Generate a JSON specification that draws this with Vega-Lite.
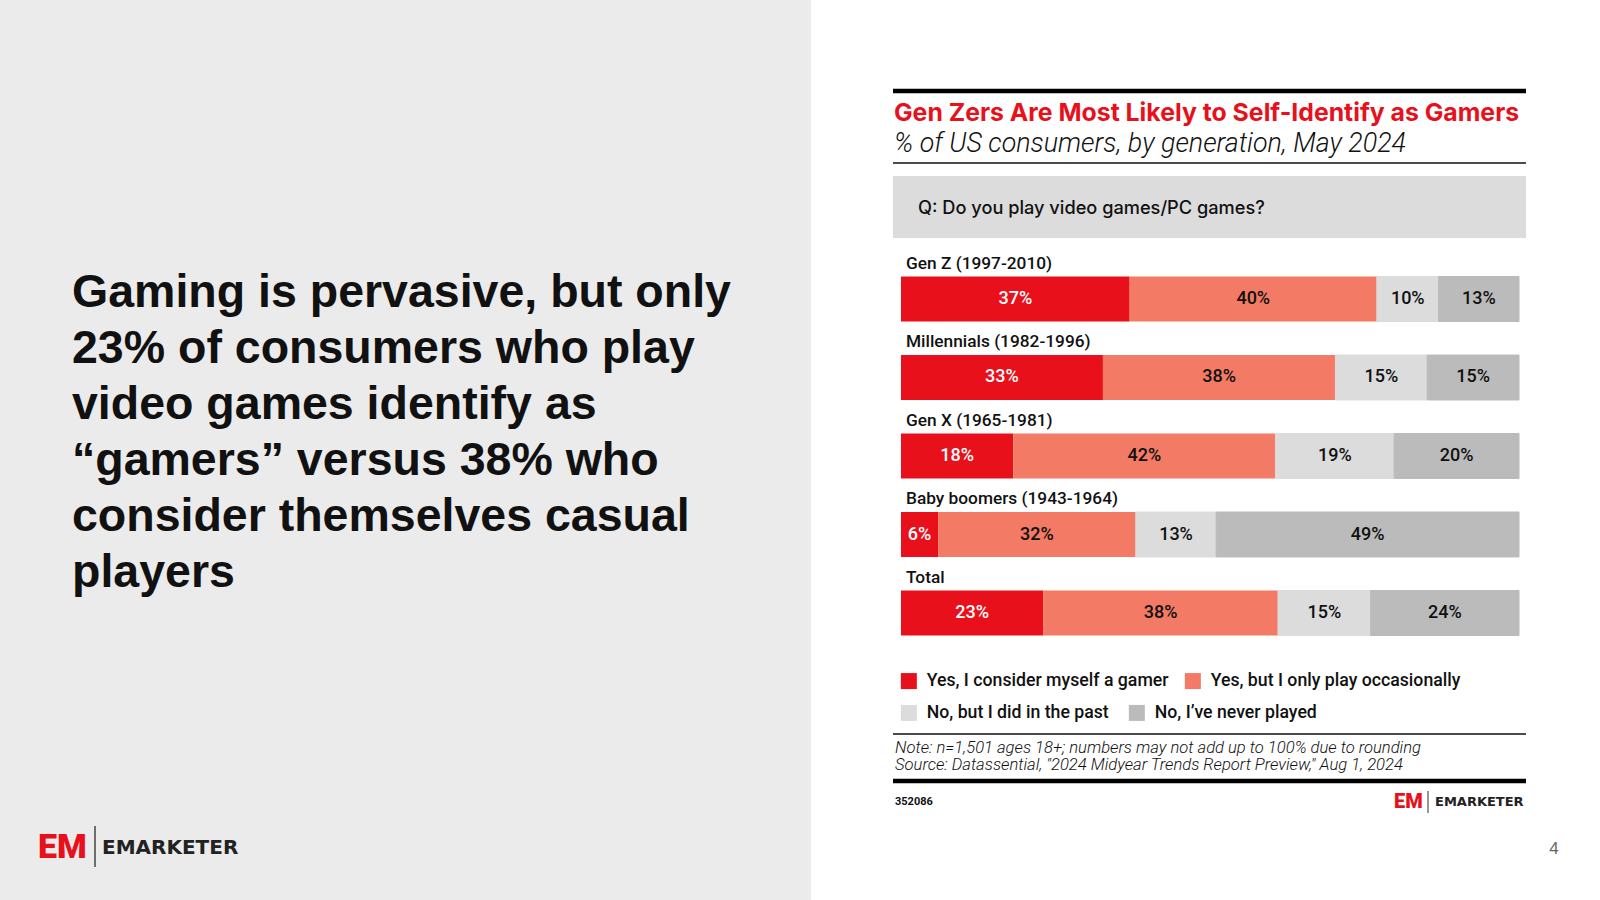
{
  "$schema": "https://vega.github.io/schema/vega-lite/v6.json",
  "width": 1600,
  "height": 900,
  "autosize": {"type": "fit", "contains": "padding"},
  "padding": 0,
  "background": "white",
  "config": {
    "view": {"stroke": null},
    "legend": {
      "orient": "none",
      "direction": "horizontal",
      "symbolType": "square",
      "symbolOpacity": 1,
      "labelOffset": 9,
      "labelFont": "Roboto",
      "labelFontSize": 17.7,
      "labelFontWeight": 500,
      "labelColor": "#111111",
      "labelLimit": 500,
      "padding": 0,
      "title": null
    }
  },
  "datasets": {
    "survey": [
      {"generation": "Gen Z (1997-2010)", "response": "Yes, I consider myself a gamer", "share": 0.37, "rank": 1},
      {"generation": "Gen Z (1997-2010)", "response": "Yes, but I only play occasionally", "share": 0.40, "rank": 2},
      {"generation": "Gen Z (1997-2010)", "response": "No, but I did in the past", "share": 0.10, "rank": 3},
      {"generation": "Gen Z (1997-2010)", "response": "No, I’ve never played", "share": 0.13, "rank": 4},
      {"generation": "Millennials (1982-1996)", "response": "Yes, I consider myself a gamer", "share": 0.33, "rank": 1},
      {"generation": "Millennials (1982-1996)", "response": "Yes, but I only play occasionally", "share": 0.38, "rank": 2},
      {"generation": "Millennials (1982-1996)", "response": "No, but I did in the past", "share": 0.15, "rank": 3},
      {"generation": "Millennials (1982-1996)", "response": "No, I’ve never played", "share": 0.15, "rank": 4},
      {"generation": "Gen X (1965-1981)", "response": "Yes, I consider myself a gamer", "share": 0.18, "rank": 1},
      {"generation": "Gen X (1965-1981)", "response": "Yes, but I only play occasionally", "share": 0.42, "rank": 2},
      {"generation": "Gen X (1965-1981)", "response": "No, but I did in the past", "share": 0.19, "rank": 3},
      {"generation": "Gen X (1965-1981)", "response": "No, I’ve never played", "share": 0.20, "rank": 4},
      {"generation": "Baby boomers (1943-1964)", "response": "Yes, I consider myself a gamer", "share": 0.06, "rank": 1},
      {"generation": "Baby boomers (1943-1964)", "response": "Yes, but I only play occasionally", "share": 0.32, "rank": 2},
      {"generation": "Baby boomers (1943-1964)", "response": "No, but I did in the past", "share": 0.13, "rank": 3},
      {"generation": "Baby boomers (1943-1964)", "response": "No, I’ve never played", "share": 0.49, "rank": 4},
      {"generation": "Total", "response": "Yes, I consider myself a gamer", "share": 0.23, "rank": 1},
      {"generation": "Total", "response": "Yes, but I only play occasionally", "share": 0.38, "rank": 2},
      {"generation": "Total", "response": "No, but I did in the past", "share": 0.15, "rank": 3},
      {"generation": "Total", "response": "No, I’ve never played", "share": 0.24, "rank": 4}
    ],
    "generations": [
      {"generation": "Gen Z (1997-2010)"},
      {"generation": "Millennials (1982-1996)"},
      {"generation": "Gen X (1965-1981)"},
      {"generation": "Baby boomers (1943-1964)"},
      {"generation": "Total"}
    ],
    "one": [{}]
  },
  "layer": [
    {
      "data": {"name": "one"},
      "mark": {"type": "rect", "fill": "#ebebeb", "strokeWidth": 0},
      "encoding": {"x": {"value": 0}, "x2": {"value": 811}, "y": {"value": 0}, "y2": {"value": 900}}
    },
    {
      "data": {"name": "one"},
      "mark": {
        "type": "text",
        "x": 72, "y": 293,
        "align": "left", "baseline": "middle",
        "font": "Liberation Sans", "fontWeight": "bold", "fontSize": 46.5, "lineHeight": 56,
        "color": "#111111",
        "text": ["Gaming is pervasive, but only", "23% of consumers who play", "video games identify as", "“gamers” versus 38% who", "consider themselves casual", "players"]
      },
      "encoding": {}
    },
    {
      "data": {"name": "one"},
      "mark": {"type": "text", "x": 38, "y": 848, "align": "left", "baseline": "middle", "font": "Roboto", "fontWeight": 900, "fontSize": 34, "color": "#e8111b", "text": "EM"},
      "encoding": {}
    },
    {
      "data": {"name": "one"},
      "mark": {"type": "rule", "stroke": "#444444", "strokeWidth": 1.5},
      "encoding": {"x": {"value": 95}, "y": {"value": 826}, "y2": {"value": 867}}
    },
    {
      "data": {"name": "one"},
      "mark": {"type": "text", "x": 102, "y": 848, "align": "left", "baseline": "middle", "font": "DejaVu Sans", "fontWeight": "bold", "fontSize": 20, "color": "#222222", "text": "EMARKETER"},
      "encoding": {}
    },
    {
      "data": {"name": "one"},
      "mark": {"type": "text", "x": 1554, "y": 849, "align": "center", "baseline": "middle", "font": "Liberation Sans", "fontSize": 17, "color": "#666666", "text": "4"},
      "encoding": {}
    },
    {
      "data": {"name": "one"},
      "mark": {"type": "rule", "stroke": "#000000", "strokeWidth": 4.5},
      "encoding": {"x": {"value": 893}, "x2": {"value": 1526}, "y": {"value": 91}}
    },
    {
      "data": {"name": "one"},
      "mark": {"type": "text", "x": 894, "y": 114, "align": "left", "baseline": "middle", "font": "Inter", "fontWeight": 700, "fontSize": 24.8, "color": "#e8111b", "text": "Gen Zers Are Most Likely to Self-Identify as Gamers"},
      "encoding": {}
    },
    {
      "data": {"name": "one"},
      "mark": {"type": "text", "x": 894, "y": 144, "align": "left", "baseline": "middle", "font": "Roboto", "fontWeight": 300, "fontStyle": "italic", "fontSize": 26.8, "color": "#111111", "text": "% of US consumers, by generation, May 2024"},
      "encoding": {}
    },
    {
      "data": {"name": "one"},
      "mark": {"type": "rule", "stroke": "#111111", "strokeWidth": 1.5},
      "encoding": {"x": {"value": 893}, "x2": {"value": 1526}, "y": {"value": 163}}
    },
    {
      "data": {"name": "one"},
      "mark": {"type": "rect", "fill": "#dcdcdc", "strokeWidth": 0},
      "encoding": {"x": {"value": 893}, "x2": {"value": 1526}, "y": {"value": 176}, "y2": {"value": 238}}
    },
    {
      "data": {"name": "one"},
      "mark": {"type": "text", "x": 918, "y": 209, "align": "left", "baseline": "middle", "font": "Inter", "fontWeight": 500, "fontSize": 18.2, "color": "#111111", "text": "Q: Do you play video games/PC games?"},
      "encoding": {}
    },
    {
      "data": {"name": "survey"},
      "mark": {"type": "bar"},
      "encoding": {
        "y": {
          "field": "generation", "type": "nominal", "axis": null,
          "scale": {
            "domain": ["Gen Z (1997-2010)", "Millennials (1982-1996)", "Gen X (1965-1981)", "Baby boomers (1943-1964)", "Total"],
            "range": [276.5, 635.5], "paddingInner": 0.427, "paddingOuter": 0
          }
        },
        "x": {
          "field": "share", "type": "quantitative", "stack": "normalize", "axis": null,
          "scale": {"domain": [0, 1], "range": [901, 1519], "nice": false}
        },
        "order": {"field": "rank", "type": "quantitative"},
        "fill": {
          "field": "response", "type": "nominal",
          "scale": {
            "domain": ["Yes, I consider myself a gamer", "Yes, but I only play occasionally", "No, but I did in the past", "No, I’ve never played"],
            "range": ["#e8111b", "#f37a64", "#dcdcdc", "#bbbbbb"]
          },
          "legend": {
            "values": ["Yes, I consider myself a gamer", "Yes, but I only play occasionally"],
            "legendX": 900,
            "legendY": 672,
            "columnPadding": 15,
            "symbolSize": 256,
            "symbolStrokeWidth": 0,
            "symbolStrokeColor": "transparent"
          }
        },
        "stroke": {
          "field": "response", "type": "nominal",
          "scale": {
            "domain": ["No, but I did in the past", "No, I’ve never played"],
            "range": ["#dcdcdc", "#bbbbbb"]
          },
          "legend": {
            "legendX": 900,
            "legendY": 704,
            "columnPadding": 7,
            "symbolSize": 64,
            "symbolStrokeWidth": 8,
            "symbolFillColor": "transparent"
          }
        }
      }
    },
    {
      "data": {"name": "survey"},
      "mark": {"type": "text", "font": "Roboto", "fontWeight": 500, "fontSize": 18, "baseline": "middle", "align": "center"},
      "encoding": {
        "y": {"field": "generation", "type": "nominal", "bandPosition": 0.5},
        "x": {"field": "share", "type": "quantitative", "stack": "normalize", "bandPosition": 0.5},
        "order": {"field": "rank", "type": "quantitative"},
        "text": {"field": "share", "type": "quantitative", "format": ".0%"},
        "color": {
          "condition": {"test": "datum.rank === 1", "value": "#ffffff"},
          "value": "#111111"
        }
      }
    },
    {
      "data": {"name": "generations"},
      "mark": {"type": "text", "font": "Roboto", "fontWeight": 500, "fontSize": 17.3, "baseline": "middle", "align": "left", "dx": 5, "dy": -13, "color": "#111111"},
      "encoding": {
        "y": {"field": "generation", "type": "nominal", "bandPosition": 0},
        "x": {"datum": 0, "type": "quantitative"},
        "text": {"field": "generation"}
      }
    },
    {
      "data": {"name": "one"},
      "mark": {"type": "rule", "stroke": "#111111", "strokeWidth": 1.5},
      "encoding": {"x": {"value": 893}, "x2": {"value": 1526}, "y": {"value": 734}}
    },
    {
      "data": {"name": "one"},
      "mark": {
        "type": "text", "x": 895, "y": 748, "align": "left", "baseline": "middle",
        "font": "Roboto", "fontStyle": "italic", "fontWeight": 300, "fontSize": 16.6, "lineHeight": 17, "color": "#111111",
        "text": ["Note: n=1,501 ages 18+; numbers may not add up to 100% due to rounding", "Source: Datassential, \"2024 Midyear Trends Report Preview,\" Aug 1, 2024"]
      },
      "encoding": {}
    },
    {
      "data": {"name": "one"},
      "mark": {"type": "rule", "stroke": "#000000", "strokeWidth": 4.5},
      "encoding": {"x": {"value": 893}, "x2": {"value": 1526}, "y": {"value": 781}}
    },
    {
      "data": {"name": "one"},
      "mark": {"type": "text", "x": 895, "y": 802, "align": "left", "baseline": "middle", "font": "Roboto", "fontWeight": 700, "fontSize": 11, "color": "#111111", "text": "352086"},
      "encoding": {}
    },
    {
      "data": {"name": "one"},
      "mark": {"type": "text", "x": 1394, "y": 802, "align": "left", "baseline": "middle", "font": "Roboto", "fontWeight": 900, "fontSize": 20, "color": "#e8111b", "text": "EM"},
      "encoding": {}
    },
    {
      "data": {"name": "one"},
      "mark": {"type": "rule", "stroke": "#333333", "strokeWidth": 1},
      "encoding": {"x": {"value": 1428}, "y": {"value": 791}, "y2": {"value": 813}}
    },
    {
      "data": {"name": "one"},
      "mark": {"type": "text", "x": 1435, "y": 802, "align": "left", "baseline": "middle", "font": "DejaVu Sans", "fontWeight": "bold", "fontSize": 13, "color": "#222222", "text": "EMARKETER"},
      "encoding": {}
    }
  ]
}
